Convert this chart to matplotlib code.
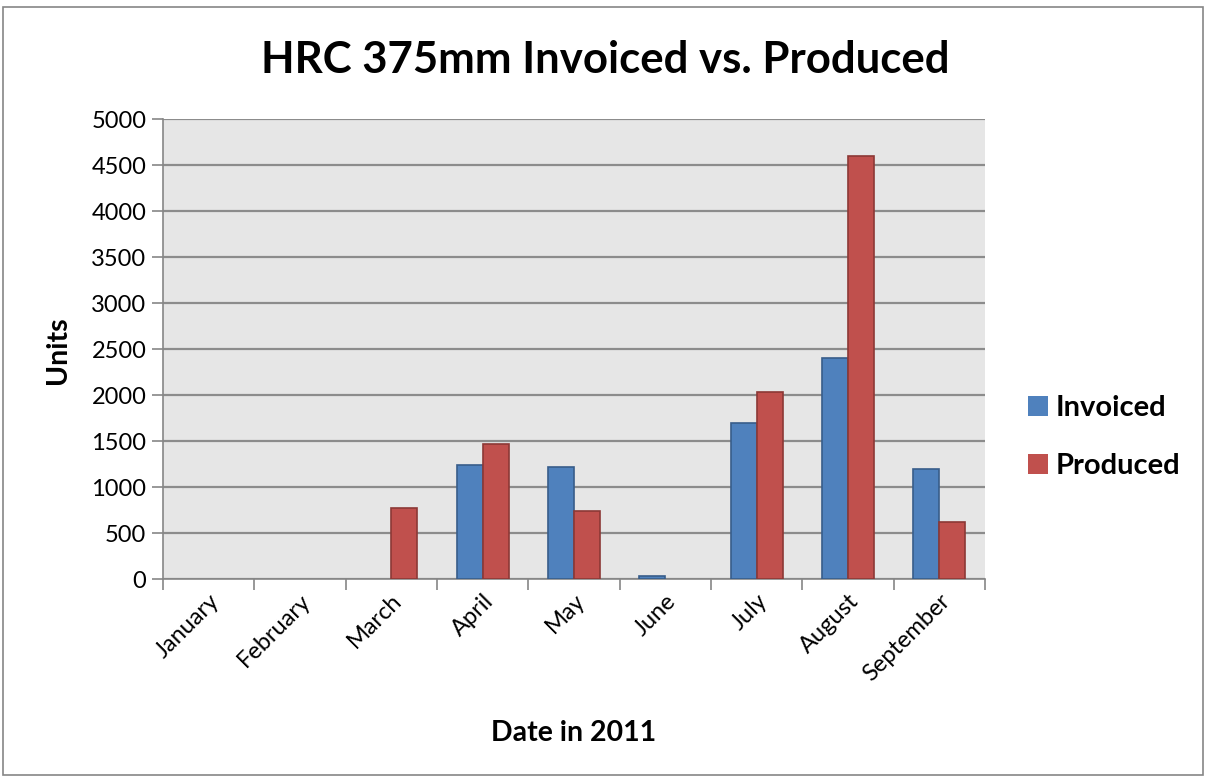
import matplotlib
matplotlib.use("Agg")
import matplotlib.pyplot as plt
import numpy as np
from matplotlib.patches import Rectangle

months = ["January", "February", "March", "April", "May", "June", "July", "August", "September"]
invoiced = [0, 0, 0, 1240, 1220, 30, 1700, 2400, 1200]
produced = [0, 0, 775, 1465, 740, 0, 2035, 4600, 620]
y_ticks = [0, 500, 1000, 1500, 2000, 2500, 3000, 3500, 4000, 4500, 5000]

plt.rcParams['font.family'] = ['Lato', 'DejaVu Sans']

W, H = 1207, 779
fig = plt.figure(figsize=(W / 100, H / 100), dpi=100)
fig.patches.append(Rectangle((3 / W, 4 / H), 1 - 7 / W, 1 - 11 / H, transform=fig.transFigure,
                             fill=False, edgecolor="#868686", linewidth=1.2))

left, right, top, bottom = 163, 985, 119, 579
ax = fig.add_axes([left / W, 1 - bottom / H, (right - left) / W, (bottom - top) / H])
ax.set_facecolor("#E6E6E6")

x = np.arange(len(months))
bw = 1 / 3.5
lw_inv = [1.2 if v > 0 else 0 for v in invoiced]
lw_pro = [1.2 if v > 0 else 0 for v in produced]
ax.bar(x - bw / 2, invoiced, bw, color="#4F81BD", edgecolor="#385D8A", linewidth=lw_inv, label="Invoiced", zorder=3)
ax.bar(x + bw / 2, produced, bw, color="#C0504D", edgecolor="#8C3836", linewidth=lw_pro, label="Produced", zorder=3)

ax.set_xlim(-0.5, len(months) - 0.5)
ax.set_ylim(0, 5000)
ax.set_yticks(y_ticks)
ax.set_yticklabels([str(v) for v in y_ticks], fontsize=17)
ax.yaxis.grid(True, color="#8C8C8C", linewidth=1.6, zorder=0)
ax.set_axisbelow(True)

ax.set_xticks(x)
ax.set_xticklabels(months, rotation=45, ha="right", rotation_mode="anchor", fontsize=17)
ax.tick_params(axis="x", which="major", length=0, pad=8)
ax.set_xticks(np.arange(-0.5, len(months)), minor=True)
ax.tick_params(axis="x", which="minor", length=8, width=1.2, color="#868686")
ax.tick_params(axis="y", length=8, width=1.2, color="#868686", pad=4)

for s in ["top", "right"]:
    ax.spines[s].set_visible(False)
ax.spines["left"].set_color("#868686")
ax.spines["bottom"].set_color("#868686")
ax.spines["left"].set_linewidth(1.2)
ax.spines["bottom"].set_linewidth(1.2)

fig.text(605 / W, 1 - 60 / H, "HRC 375mm Invoiced vs. Produced", ha="center", va="center",
         fontsize=31.5, fontweight="bold")
fig.text(58 / W, 1 - 350 / H, "Units", rotation=90, ha="center", va="center", fontsize=20.5, fontweight="bold")
fig.text(574 / W, 1 - 733 / H, "Date in 2011", ha="center", va="center", fontsize=20.5, fontweight="bold")

leg = fig.legend(loc="center left", bbox_to_anchor=(1028 / W, 1 - 437 / H), frameon=False,
                 prop={"size": 21, "weight": "bold"}, handlelength=0.7, handleheight=0.7,
                 handletextpad=0.25, labelspacing=1.1, borderaxespad=0, borderpad=0)

fig.savefig("out.png", dpi=100)
